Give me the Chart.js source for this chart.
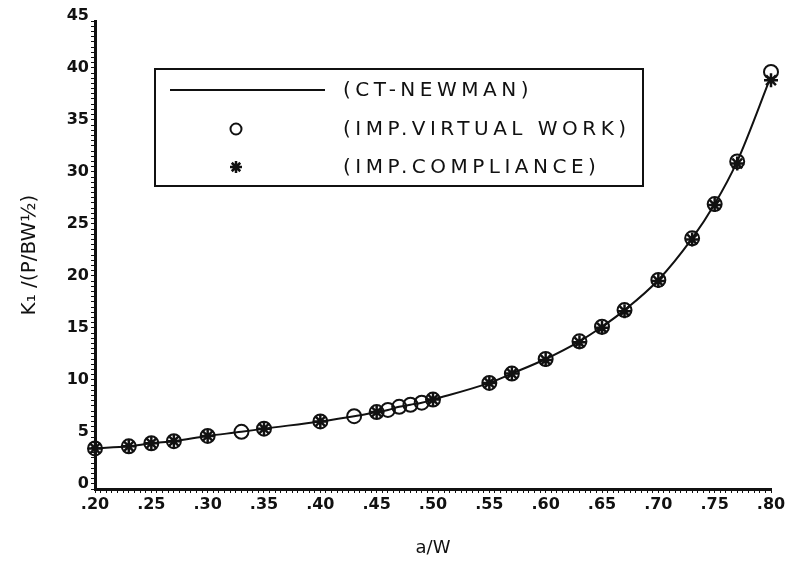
<!DOCTYPE html>
<html>
<head>
<meta charset="utf-8">
<script src="https://cdn.jsdelivr.net/npm/chart.js@4"></script>
<style>
  html, body { margin: 0; padding: 0; background: #fff; }
  #wrap { width: 788px; height: 565px; }
</style>
</head>
<body>
<div id="wrap"><canvas id="chart_ki"></canvas></div>
<script>
// crack length ratio a/W
const aW = [0.20, 0.23, 0.25, 0.27, 0.30, 0.33, 0.35, 0.40, 0.43, 0.45, 0.46, 0.47, 0.48,
  0.49, 0.50, 0.55, 0.57, 0.60, 0.63, 0.65, 0.67, 0.70, 0.73, 0.75, 0.77, 0.80];
// CT-Newman curve
const newman = [3.9, 4.1, 4.4, 4.6, 5.1, 5.5, 5.8, 6.5, 7.0, 7.4, 7.6, 7.9, 8.1,
  8.3, 8.6, 10.2, 11.1, 12.5, 14.2, 15.6, 17.2, 20.1, 24.1, 27.4, 31.5, 39.7];
// improved virtual work (circles)
const virtualWork = [3.9, 4.1, 4.4, 4.6, 5.1, 5.5, 5.8, 6.5, 7.0, 7.4, 7.6, 7.9, 8.1,
  8.3, 8.6, 10.2, 11.1, 12.5, 14.2, 15.6, 17.2, 20.1, 24.1, 27.4, 31.5, 40.1];
// improved compliance (stars)
const aWComp = [0.20, 0.23, 0.25, 0.27, 0.30, 0.35, 0.40, 0.45, 0.50, 0.55, 0.57, 0.60,
  0.63, 0.65, 0.67, 0.70, 0.73, 0.75, 0.77, 0.80];
const compliance = [3.9, 4.1, 4.4, 4.6, 5.1, 5.8, 6.5, 7.4, 8.6, 10.2, 11.1, 12.4,
  14.1, 15.5, 17.1, 20.0, 24.0, 27.3, 31.3, 39.3];

const xMajor = [0.20, 0.25, 0.30, 0.35, 0.40, 0.45, 0.50, 0.55, 0.60, 0.65, 0.70, 0.75, 0.80];
const yMajor = [0, 5, 10, 15, 20, 25, 30, 35, 40, 45];

const pts = (xs, ys) => xs.map((x, i) => ({ x: x, y: ys[i] }));
const ink = '#111';

// legend box drawn inside the plot like the original
const boxLegend = {
  id: 'boxLegend',
  afterDraw(chart) {
    const c = chart.ctx;
    const ds = chart.data.datasets;
    const x0 = 155, y0 = 69, w = 488, h = 117;
    c.save();
    c.strokeStyle = ink;
    c.lineWidth = 2;
    c.strokeRect(x0, y0, w, h);
    c.fillStyle = ink;
    c.font = '20px "DejaVu Sans"';
    c.letterSpacing = '4.5px';
    c.textBaseline = 'middle';
    const rows = [90, 129, 167];
    // line sample
    c.beginPath();
    c.moveTo(170, rows[0]);
    c.lineTo(325, rows[0]);
    c.stroke();
    // circle sample
    c.beginPath();
    c.arc(236, rows[1], 5.5, 0, Math.PI * 2);
    c.stroke();
    // star sample
    const r = 6;
    c.lineWidth = 2.5;
    c.beginPath();
    for (let k = 0; k < 4; k++) {
      const a = k * Math.PI / 4;
      c.moveTo(236 - r * Math.cos(a), rows[2] - r * Math.sin(a));
      c.lineTo(236 + r * Math.cos(a), rows[2] + r * Math.sin(a));
    }
    c.stroke();
    ds.forEach((d, i) => c.fillText(d.label, 343, rows[i] + 1));
    c.restore();
  }
};

new Chart(document.getElementById('chart_ki'), {
  type: 'line',
  data: {
    datasets: [
      {
        label: '(CT-NEWMAN)',
        data: pts(aW, newman),
        borderColor: ink,
        borderWidth: 2,
        pointRadius: 0,
        cubicInterpolationMode: 'monotone',
        fill: false,
        clip: false,
        order: 3
      },
      {
        label: '(IMP.VIRTUAL WORK)',
        data: pts(aW, virtualWork),
        showLine: false,
        pointStyle: 'circle',
        pointRadius: 7,
        pointBorderWidth: 2,
        pointBorderColor: ink,
        pointBackgroundColor: 'rgba(255,255,255,0)',
        clip: false,
        order: 2
      },
      {
        label: '(IMP.COMPLIANCE)',
        data: pts(aWComp, compliance),
        showLine: false,
        pointStyle: 'star',
        pointRadius: 7,
        pointBorderWidth: 2.5,
        pointBorderColor: ink,
        pointBackgroundColor: ink,
        clip: false,
        order: 1
      }
    ]
  },
  options: {
    responsive: true,
    maintainAspectRatio: false,
    animation: false,
    events: [],
    layout: { padding: { top: 21, right: 17, left: 0, bottom: 0 } },
    plugins: {
      legend: { display: false },
      tooltip: { enabled: false }
    },
    scales: {
      x: {
        type: 'linear',
        min: 0.2,
        max: 0.8,
        afterFit: s => { s.height = 76; },
        afterBuildTicks: s => {
          const t = [];
          for (let i = 0; i <= 120; i++) t.push({ value: 0.2 + i * 0.005 });
          s.ticks = t;
        },
        border: { display: true, color: ink, width: 3 },
        grid: {
          drawOnChartArea: false,
          drawTicks: true,
          tickLength: 4,
          color: ink,
          lineWidth: 1
        },
        ticks: {
          autoSkip: false,
          maxRotation: 0,
          padding: 2,
          color: ink,
          font: { family: 'DejaVu Sans', size: 16, weight: 'bold' },
          callback: (v, i) => (i % 10 === 0 ? xMajor[i / 10].toFixed(2).slice(1) : '')
        },
        title: {
          display: true,
          text: 'a/W',
          color: ink,
          font: { family: 'DejaVu Sans', size: 18 },
          padding: { top: 0, bottom: 6 }
        }
      },
      y: {
        type: 'linear',
        min: 0,
        max: 45,
        afterFit: s => { s.width = 95; },
        afterBuildTicks: s => {
          const t = [];
          for (let i = 0; i <= 90; i++) t.push({ value: i * 0.5 });
          s.ticks = t;
        },
        border: { display: true, color: ink, width: 3 },
        grid: {
          drawOnChartArea: false,
          drawTicks: true,
          tickLength: 4,
          color: ink,
          lineWidth: 1
        },
        ticks: {
          autoSkip: false,
          padding: 2,
          labelOffset: -5,
          color: ink,
          font: { family: 'DejaVu Sans', size: 16, weight: 'bold' },
          callback: (v, i) => (i % 10 === 0 ? String(yMajor[i / 10]) : '')
        },
        title: {
          display: true,
          text: 'K\u2081 /(P/BW\u00BD)',
          color: ink,
          font: { family: 'DejaVu Sans', size: 20 },
          padding: { top: 18, bottom: 0 }
        }
      }
    }
  },
  plugins: [boxLegend]
});
</script>
</body>
</html>
